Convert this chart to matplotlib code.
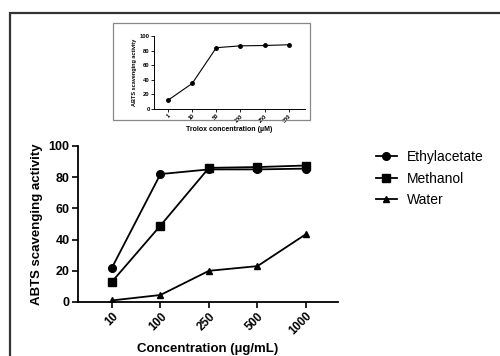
import matplotlib
matplotlib.use("Agg")
import matplotlib.pyplot as plt
from matplotlib.patches import Rectangle

plt.rcParams['font.family'] = ['Liberation Sans', 'DejaVu Sans']

categories = ["10", "100", "250", "500", "1000"]
ethylacetate = [22, 82, 85, 85, 85.5]
methanol = [13, 49, 86, 86.5, 87.5]
water = [1, 4.5, 20, 23, 43.5]

trolox_cats = ["1", "10", "50", "100", "250", "500"]
trolox = [12, 35, 84, 86.5, 87, 88]

W, H = 500, 356
fig = plt.figure(figsize=(W/100, H/100), dpi=100)

def fx(px): return px / W
def fy(py): return 1 - py / H

# outer frame
fig.patches.append(Rectangle((fx(10), fy(400)), fx(560), fy(13) - fy(400),
                             transform=fig.transFigure, fill=False,
                             edgecolor='#333333', linewidth=1.6))
# inset frame
fig.patches.append(Rectangle((fx(113), fy(120)), fx(310) - fx(113), fy(23) - fy(120),
                             transform=fig.transFigure, fill=False,
                             edgecolor='#888888', linewidth=0.9))

# main axes
ax = fig.add_axes([fx(78), fy(302), fx(338) - fx(78), fy(146) - fy(302)])
x = range(len(categories))
ax.plot(x, ethylacetate, color='black', marker='o', markersize=5.5, lw=1.3, label='Ethylacetate')
ax.plot(x, methanol, color='black', marker='s', markersize=5.5, lw=1.3, label='Methanol')
ax.plot(x, water, color='black', marker='^', markersize=5, lw=1.3, label='Water')
ax.set_xlim(-0.7, 4.66)
ax.set_ylim(0, 100)
ax.set_yticks([0, 20, 40, 60, 80, 100])
ax.set_xticks(list(x))
ax.set_xticklabels(categories, rotation=45, ha='right', rotation_mode='anchor',
                   fontweight='bold', fontsize=8.5)
for t in ax.get_yticklabels():
    t.set_fontweight('bold'); t.set_fontsize(9)
for s in ['top', 'right']:
    ax.spines[s].set_visible(False)
for s in ['left', 'bottom']:
    ax.spines[s].set_linewidth(1.3)
ax.tick_params(axis='both', width=1.2, length=4, pad=2)
ax.set_ylabel('ABTS scavenging activity', fontweight='bold', fontsize=9.5, labelpad=4)
ax.set_xlabel('Concentration (µg/mL)', fontweight='bold', fontsize=9.5, labelpad=4)
ax.legend(loc='upper left', bbox_to_anchor=(fx(376), fy(150)), bbox_transform=fig.transFigure,
          frameon=False, fontsize=10, handlelength=1.5, handletextpad=0.7, labelspacing=0.55,
          borderaxespad=0, borderpad=0)

# inset axes
ai = fig.add_axes([fx(154), fy(109), fx(305) - fx(154), fy(36) - fy(109)])
xi = range(len(trolox_cats))
ai.plot(xi, trolox, color='black', marker='o', markersize=2.5, lw=0.8)
ai.set_xlim(-0.58, 5.67)
ai.set_ylim(0, 100)
ai.set_yticks([0, 20, 40, 60, 80, 100])
ai.set_xticks(list(xi))
ai.set_xticklabels(trolox_cats, rotation=45, ha='right', rotation_mode='anchor',
                   fontweight='bold', fontsize=4)
for t in ai.get_yticklabels():
    t.set_fontweight('bold'); t.set_fontsize(4.2)
for s in ['top', 'right']:
    ai.spines[s].set_visible(False)
for s in ['left', 'bottom']:
    ai.spines[s].set_linewidth(0.7)
ai.tick_params(axis='both', width=0.6, length=2, pad=1)
ai.set_ylabel('ABTS scavenging activity', fontweight='bold', fontsize=4, labelpad=2)
ai.set_xlabel('Trolox concentration (µM)', fontweight='bold', fontsize=5, labelpad=2)

fig.savefig('out.png', dpi=100)
